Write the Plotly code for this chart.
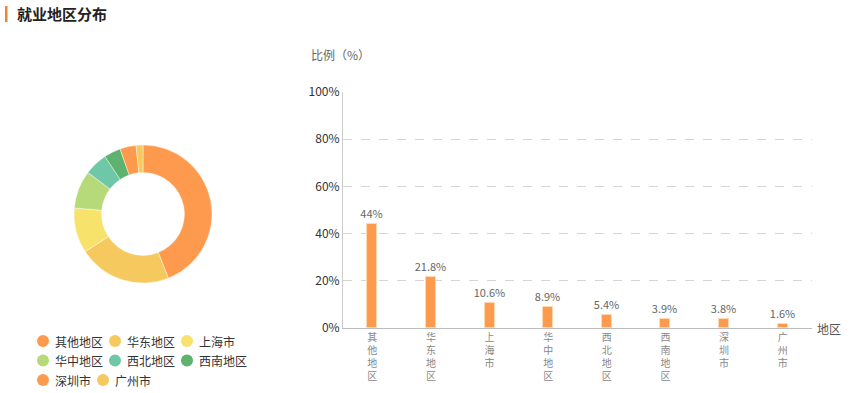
import plotly.graph_objects as go

W, H = 858, 393
FONT = "Noto Sans CJK SC"

categories = ["其他地区", "华东地区", "上海市", "华中地区", "西北地区", "西南地区", "深圳市", "广州市"]
values = [44, 21.8, 10.6, 8.9, 5.4, 3.9, 3.8, 1.6]
pie_colors = ["#FE9A4D", "#F5C95E", "#F7E26C", "#B6DA7A", "#6EC8A7", "#5DB26E", "#FE9A4D", "#F5C95E"]
y_ticks = [0, 20, 40, 60, 80, 100]
y_tick_labels = ["0%", "20%", "40%", "60%", "80%", "100%"]
title_text = "就业地区分布"
y_axis_title = "比例（%）"
x_axis_title = "地区"


def px(x):
    return x / W


def py(y):
    return 1 - y / H


fig = go.Figure()

# Donut
fig.add_trace(go.Pie(
    labels=categories, values=values, hole=0.6, sort=False,
    direction="clockwise", rotation=0,
    marker=dict(colors=pie_colors, line=dict(color="rgba(255,255,255,0.7)", width=0.6)),
    textinfo="none", hoverinfo="label+percent", showlegend=False,
    domain=dict(x=[px(74), px(212)], y=[py(283), py(145)]),
))

# Bars
fig.add_trace(go.Bar(
    x=categories, y=values, width=0.17,
    marker=dict(color="#FE9A4D", line=dict(color="#FFD9B0", width=1)),
    texttemplate="%{y}%", textposition="outside", constraintext="none",
    textfont=dict(color="#666666", size=11, family=FONT),
    cliponaxis=False, showlegend=False,
))

fig.update_layout(
    width=W, height=H,
    margin=dict(l=0, r=0, t=0, b=0, autoexpand=False),
    paper_bgcolor="white", plot_bgcolor="white",
    font=dict(family=FONT, size=12, color="#333333"),
    bargap=0.0,
    showlegend=False,
    xaxis=dict(
        domain=[px(343), px(812)], range=[-0.5, 7.5],
        showline=True, linecolor="#BBBBBB", linewidth=1,
        showgrid=False, ticks="", automargin=False,
        tickmode="array", tickvals=categories,
        ticktext=["<br>".join(list(c)) for c in categories],
        tickfont=dict(size=10, color="#888888", family=FONT),
        tickangle=0, fixedrange=True,
    ),
    yaxis=dict(
        domain=[py(328), py(92)], range=[0, 100],
        showline=True, linecolor="#CCCCCC", linewidth=1,
        showgrid=True, gridcolor="#D5D5D5", griddash="dash", gridwidth=1,
        zeroline=False, automargin=False,
        tickmode="array", tickvals=y_ticks, ticktext=y_tick_labels,
        tickfont=dict(size=12, color="#333333", family=FONT),
        ticks="", ticklen=0, fixedrange=True,
    ),
)

annotations = [
    dict(text="<b>" + title_text + "</b>", x=px(15), y=py(14), xref="paper", yref="paper",
         xanchor="left", yanchor="middle", showarrow=False,
         font=dict(size=15, color="#222222", family=FONT)),
    dict(text=y_axis_title, x=px(340), y=py(54), xref="paper", yref="paper",
         xanchor="center", yanchor="middle", showarrow=False,
         font=dict(size=12, color="#666666", family=FONT)),
    dict(text=x_axis_title, x=px(815), y=py(328), xref="paper", yref="paper",
         xanchor="left", yanchor="middle", showarrow=False,
         font=dict(size=12, color="#555555", family=FONT)),
]
shapes = [
    dict(type="rect", xref="paper", yref="paper", x0=px(5), x1=px(7.5), y0=py(22), y1=py(6),
         fillcolor="#E8873A", line=dict(width=0)),
]

# Manual legend (flow layout, three entries per row)
lx0, ly0, row_h = 43, 341, 19.5
x_cursor = lx0
for i, (name, col) in enumerate(zip(categories, pie_colors)):
    row = i // 3
    if i % 3 == 0:
        x_cursor = lx0
    cy = ly0 + row * row_h
    shapes.append(dict(type="circle", xref="paper", yref="paper",
                       x0=px(x_cursor - 6), x1=px(x_cursor + 6),
                       y0=py(cy + 6), y1=py(cy - 6),
                       fillcolor=col, line=dict(width=0)))
    annotations.append(dict(text=name, x=px(x_cursor + 10), y=py(cy), xref="paper", yref="paper",
                            xanchor="left", yanchor="middle", showarrow=False,
                            font=dict(size=12, color="#333333", family=FONT)))
    x_cursor += 24 + 12 * len(name)

fig.update_layout(annotations=annotations, shapes=shapes)

fig.write_html(
    "out.html",
    config={"displayModeBar": False},
    post_script="document.body.style.margin='0px';document.body.style.overflow='hidden';",
)
